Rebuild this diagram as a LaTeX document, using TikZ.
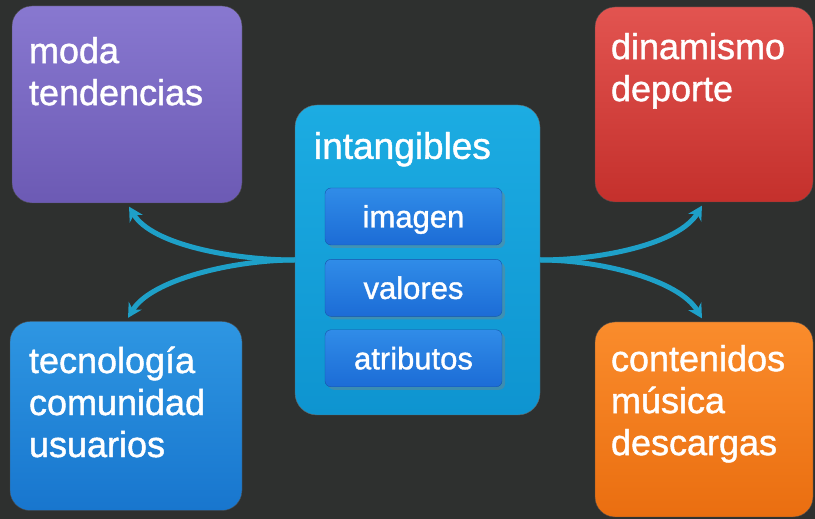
\documentclass[tikz,border=0pt]{standalone}
\usepackage{fontspec}
\setmainfont{Liberation Sans}[BoldFont=Liberation Sans, BoldFeatures={FakeBold=1.2}]
\usetikzlibrary{positioning,arrows.meta,shadows,calc}
\definecolor{bgdark}{RGB}{46,48,47}
\definecolor{modatop}{RGB}{136,120,208}
\definecolor{modabot}{RGB}{108,90,180}
\definecolor{dintop}{RGB}{226,84,80}
\definecolor{dinbot}{RGB}{196,48,44}
\definecolor{tectop}{RGB}{46,150,226}
\definecolor{tecbot}{RGB}{24,118,206}
\definecolor{contop}{RGB}{250,140,44}
\definecolor{conbot}{RGB}{234,110,16}
\definecolor{ctrtop}{RGB}{28,172,226}
\definecolor{ctrbot}{RGB}{14,148,208}
\definecolor{inntop}{RGB}{48,140,232}
\definecolor{innbot}{RGB}{28,108,214}
\definecolor{arrowblue}{RGB}{30,160,200}
\tikzstyle{cbox}=[rectangle, rounded corners=20pt, draw=black!70, thin,
                  minimum width=226pt, minimum height=195pt, inner sep=0pt]
\tikzstyle{ctext}=[below right, inner sep=0pt, align=left, text=white,
                   font=\fontsize{36}{42}\selectfont\bfseries]
\tikzstyle{ibox}=[rectangle, rounded corners=6pt, top color=inntop, bottom color=innbot,
                  draw=innbot!80!black, minimum width=177pt, minimum height=57pt,
                  inner sep=0pt, text=white, text height=22pt, text depth=0pt,
                  font=\fontsize{31}{34}\selectfont\bfseries,
                  drop shadow={shadow xshift=3pt, shadow yshift=-3pt, opacity=0.4}]
\tikzstyle{pline}=[-{Stealth[length=14pt,width=15pt]}, line width=5pt, draw=arrowblue,
                   shorten >=4pt]

\begin{document}
\begin{tikzpicture}[x=1pt,y=1pt]
\useasboundingbox (0,0) rectangle (815,519);
\fill[bgdark] (0,0) rectangle (815,519);

% centre block
\node (CTR) [rectangle, rounded corners=22pt, top color=ctrtop, bottom color=ctrbot,
  draw=black!60, minimum width=245pt, minimum height=310pt] at (417.5,259) {};
\node [ctext, font=\fontsize{37}{42}\selectfont\bfseries] at ($(CTR.north west)+(19,-27)$) {intangibles};

\node (IMG) [ibox] at (413.5,302.5) {imagen};
\node (VAL) [ibox, below=14pt of IMG] {valores};
\node (ATR) [ibox, below=13pt of VAL] {atributos};

% corner blocks
\node (MODA) [cbox, top color=modatop, bottom color=modabot,
  minimum width=230pt, minimum height=197pt] at (127,414.5) {};
\node [ctext] at ($(MODA.north west)+(17,-31)$) {moda\\tendencias};

\node (DIN) [cbox, top color=dintop, bottom color=dinbot,
  minimum width=218pt] at (704,414.5) {};
\node [ctext] at ($(DIN.north west)+(16,-26)$) {dinamismo\\deporte};

\node (TEC) [cbox, top color=tectop, bottom color=tecbot,
  minimum width=232pt, minimum height=189pt] at (126,103) {};
\node [ctext] at ($(TEC.north west)+(19,-25)$) {tecnología\\comunidad\\usuarios};

\node (CON) [cbox, top color=contop, bottom color=conbot,
  minimum width=218pt] at (704,99.5) {};
\node [ctext] at ($(CON.north west)+(16,-23)$) {contenidos\\música\\descargas};

% connectors
\draw[pline] (CTR.west) .. controls +(-60,0) and +(25,-42) .. (MODA.south);
\draw[pline] (CTR.west) .. controls +(-60,0) and +(25,42) .. (TEC.north);
\draw[pline] (CTR.east) .. controls +(60,0) and +(-25,-42) .. (DIN.south);
\draw[pline] (CTR.east) .. controls +(60,0) and +(-25,42) .. (CON.north);

\end{tikzpicture}
\end{document}
